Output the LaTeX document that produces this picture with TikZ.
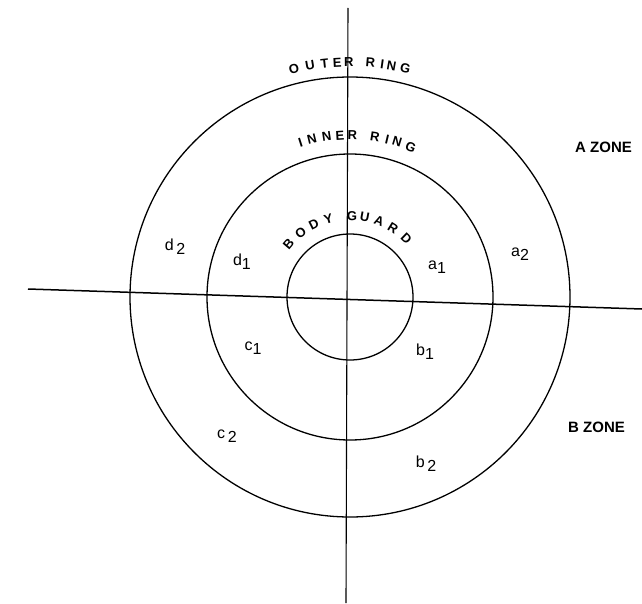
\documentclass[tikz,border=0pt]{standalone}
\usepackage{fontspec}
\setmainfont{Liberation Sans}
\usetikzlibrary{positioning}

\begin{document}
\begin{tikzpicture}[
    x=1pt, y=1pt,
    ring/.style={draw, line width=1.3pt},
    axis/.style={draw, line width=1.5pt},
    ringtxt/.style={font=\fontsize{13}{15}\selectfont\bfseries, inner sep=0pt},
    sector/.style={font=\fontsize{16}{18}\selectfont, inner sep=1pt},
    zone/.style={font=\fontsize{15}{18}\selectfont\bfseries, inner sep=0pt, anchor=west}
]
\useasboundingbox (-350,-306) rectangle (292,297);
\coordinate (c) at (0,0);
\coordinate (west) at (-322,8);
\coordinate (east) at (292,-12);
\coordinate (north) at (-2,289);
\coordinate (south) at (-4,-306);
% rings
\draw[ring] (c) circle (63);
\draw[ring] (c) circle (143);
\draw[ring] (c) circle (220);
\draw[axis] (west) -- (east);
\draw[axis, line width=1.1pt] (north) -- (south);
% ring names
\foreach \ch/\a [count=\i] in {O/-13.8, U/-9.8, T/-6.2, E/-3.1, R/-0.3, R/5.0, I/7.9, N/10.2, G/13.6}
    \node[ringtxt, rotate=-\a] (outer-\i) at ({90-\a}:235) {\ch};
\foreach \ch/\a [count=\i] in {I/-17.8, N/-13.6, N/-8.3, E/-3.6, R/0.8, R/8.9, I/13.3, N/16.9, G/22.0}
    \node[ringtxt, rotate=-\a] (inner-\i) at ({90-\a}:162) {\ch};
\foreach \ch/\a [count=\i] in {B/-49.5, O/-37.5, D/-26.5, Y/-15.5, G/1.5, U/10.5, A/21, R/32, D/44}
    \node[ringtxt, rotate=-\a] (guard-\i) at ({90-\a}:81) {\ch};
% zones
\node[zone] (azone) at (225,150) {A ZONE};
\node[zone] (bzone) at (218,-130) {B ZONE};
% sectors
\node[sector] (d2) at (-175,50) {d\,\raisebox{-0.5ex}{2}};
\node[sector] (d1) at (-108,35) {d\raisebox{-0.5ex}{1}};
\node[sector] (a1) at (87,30) {a\raisebox{-0.5ex}{1}};
\node[sector] (a2) at (170,43) {a\raisebox{-0.5ex}{2}};
\node[sector] (c1) at (-97,-51) {c\raisebox{-0.5ex}{1}};
\node[sector] (b1) at (75,-55) {b\raisebox{-0.5ex}{1}};
\node[sector] (c2) at (-123,-139) {c\,\raisebox{-0.5ex}{2}};
\node[sector] (b2) at (76,-167) {b\,\raisebox{-0.5ex}{2}};
\end{tikzpicture}
\end{document}
